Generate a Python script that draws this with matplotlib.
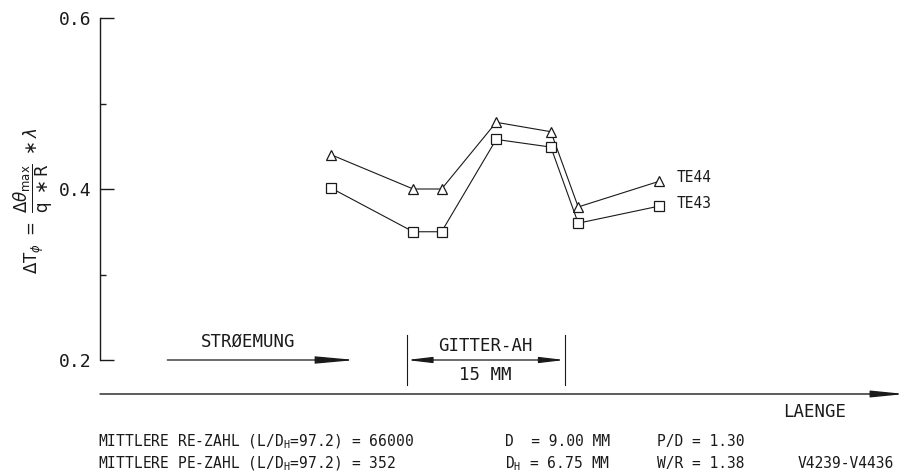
import matplotlib
matplotlib.use("Agg")
import matplotlib.pyplot as plt

# ---- data ----
x_pos = [22.0, 29.8, 32.5, 37.7, 42.9, 45.5, 53.2]          # position (mm)
te44 = [0.44, 0.40, 0.40, 0.478, 0.467, 0.379, 0.409]
te43 = [0.401, 0.35, 0.35, 0.458, 0.449, 0.360, 0.380]
series_names = ["TE44", "TE43"]
y_ticks = [0.2, 0.4, 0.6]
y_tick_labels = ["0.2", "0.4", "0.6"]
y_minor = [0.3, 0.5]
grid_start, grid_end = 29.2, 44.2
flow_start, flow_end = 6.4, 24.3

W, H = 923, 476
MONO = "DejaVu Sans Mono"
plt.rcParams["mathtext.fontset"] = "dejavusans"
INK = "#1a1a1a"

def fx(px):
    return px / W

def fy(py):
    return 1 - py / H

fig = plt.figure(figsize=(W / 100, H / 100), dpi=100)
ax = fig.add_axes([fx(100), fy(394), (905 - 100) / W, (394 - 18) / H])
ax.set_xlim(0, 805 / 10.51)
ax.set_ylim(0.6 - 376 / 855, 0.6)

for s in ["top", "right", "bottom"]:
    ax.spines[s].set_visible(False)
ax.spines["left"].set_bounds(0.2, 0.6)
ax.spines["left"].set_linewidth(1.0)
ax.spines["left"].set_color(INK)

ax.set_yticks(y_ticks)
ax.set_yticklabels(y_tick_labels, fontfamily=MONO, fontsize=13, color=INK)
ax.set_yticks(y_minor, minor=True)
ax.tick_params(axis="y", which="major", direction="in", length=10, width=1.0, pad=6, colors=INK)
ax.tick_params(axis="y", which="minor", direction="in", length=4.5, width=1.0, colors=INK)
ax.set_xticks([])

# data
ax.plot(x_pos, te44, color=INK, lw=0.8, marker="^", ms=6.5, mfc="white", mec=INK, mew=0.9)
ax.plot(x_pos, te43, color=INK, lw=0.8, marker="s", ms=6.5, mfc="white", mec=INK, mew=0.9)
ax.text(54.9, 0.414, series_names[0], fontfamily=MONO, fontsize=10.5, color=INK, va="center", ha="left")
ax.text(54.9, 0.3836, series_names[1], fontfamily=MONO, fontsize=10.5, color=INK, va="center", ha="left")

# flow arrow
ax.annotate("", xy=(flow_end, 0.2), xytext=(flow_start, 0.2),
            arrowprops=dict(arrowstyle="-|>,head_length=2.4,head_width=0.22",
                            color=INK, lw=0.9, mutation_scale=10, shrinkA=0, shrinkB=0))
ax.text((flow_start + flow_end) / 2 - 1.3, 0.221, "STRØEMUNG", fontfamily=MONO, fontsize=12.5,
        color=INK, ha="center", va="center")

# grid dimension
for gx in (grid_start, grid_end):
    ax.plot([gx, gx], [0.1708, 0.2292], color=INK, lw=0.8)
ax.annotate("", xy=(grid_end, 0.2), xytext=(grid_start, 0.2),
            arrowprops=dict(arrowstyle="<|-|>,head_length=1.5,head_width=0.18",
                            color=INK, lw=0.9, mutation_scale=10, shrinkA=0, shrinkB=0))
ax.text((grid_start + grid_end) / 2, 0.2164, "GITTER-AH", fontfamily=MONO, fontsize=12.5,
        color=INK, ha="center", va="center")
ax.text((grid_start + grid_end) / 2, 0.1825, "15 MM", fontfamily=MONO, fontsize=12.5,
        color=INK, ha="center", va="center")

# length axis arrow
ax.annotate("", xy=(1.0, 0.0), xytext=(0.0, 0.0), xycoords="axes fraction",
            textcoords="axes fraction",
            arrowprops=dict(arrowstyle="-|>,head_length=2.0,head_width=0.2",
                            color=INK, lw=1.0, mutation_scale=10, shrinkA=0, shrinkB=0))
fig.text(fx(815), fy(412), "LAENGE", fontfamily=MONO, fontsize=12.5, color=INK,
         ha="center", va="center")

# y label
fig.text(fx(33), fy(200),
         r"$\Delta\mathrm{T}_{\phi}\ =\ \dfrac{\Delta\theta_{\mathrm{max}}}{\mathrm{q}\ \ast\mathrm{R}}\ \ast\lambda$",
         rotation=90, fontsize=12, color=INK, ha="center", va="center")

# footer
DH = r"$\mathtt{D}_{\mathtt{H}}$"
fs = 10.5
fig.text(fx(98), fy(446), "MITTLERE RE-ZAHL (L/" + DH + "=97.2) = 66000", fontfamily=MONO,
         fontsize=fs, color=INK, va="baseline")
fig.text(fx(98), fy(468), "MITTLERE PE-ZAHL (L/" + DH + "=97.2) = 352", fontfamily=MONO,
         fontsize=fs, color=INK, va="baseline")
fig.text(fx(505), fy(446), "D  = 9.00 MM", fontfamily=MONO, fontsize=fs, color=INK, va="baseline")
fig.text(fx(505), fy(468), DH + " = 6.75 MM", fontfamily=MONO, fontsize=fs, color=INK, va="baseline")
fig.text(fx(657), fy(446), "P/D = 1.30", fontfamily=MONO, fontsize=fs, color=INK, va="baseline")
fig.text(fx(657), fy(468), "W/R = 1.38", fontfamily=MONO, fontsize=fs, color=INK, va="baseline")
fig.text(fx(798), fy(468), "V4239-V4436", fontfamily=MONO, fontsize=fs, color=INK, va="baseline")

fig.savefig("out.png", dpi=100, facecolor="white")
